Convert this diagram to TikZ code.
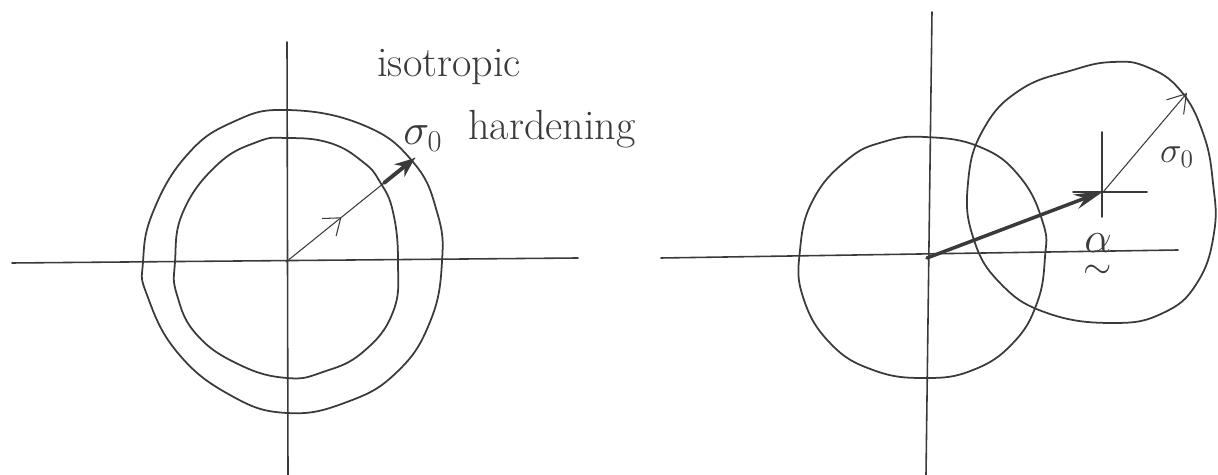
\documentclass[tikz,border=0pt]{standalone}
\usepackage{amsmath}
\usetikzlibrary{arrows.meta,decorations.markings,calc}
\definecolor{ink}{HTML}{3A3A3A}
\tikzset{
  pen/.style={draw=ink, line width=0.9pt, line cap=round, line join=round},
  axis/.style={pen},
  surface/.style={pen, line width=1pt},
  lbl/.style={text=ink, inner sep=0pt, font=\fontsize{24}{28}\selectfont},
}
\begin{document}
\begin{tikzpicture}[x=0.02cm,y=-0.02cm]
\useasboundingbox (0,0) rectangle (1218,475);
\coordinate (O1) at (286,262);
\coordinate (P1) at (415,158);
\coordinate (O2) at (927,258);
\coordinate (C2) at (1104,191);
\coordinate (T2) at (1187,93);
\draw[axis] (12,263) -- (578,258);
\draw[axis] (287,42) -- (288,475);
\draw[surface] plot[smooth cycle, tension=0.75] coordinates {(287,110) (363,125) (413,162) (437,212) (442,262) (430,322) (397,372) (347,402) (287,413) (230,395) (177,352) (147,295) (143,262) (153,212) (187,155) (233,122)};
\draw[surface] plot[smooth cycle, tension=0.75] coordinates {(287,138) (330,143) (363,162) (380,182) (393,212) (398,262) (393,312) (363,352) (323,372) (287,378) (240,365) (197,335) (177,295) (175,262) (183,212) (217,165) (257,142)};
\draw[pen, line width=0.6pt, postaction={decorate}, decoration={markings, mark=at position 0.43 with {\arrow{Straight Barb[length=3mm,width=4.5mm]}}}] (O1) -- (P1);
\draw[pen, line width=2.2pt, -{Stealth[length=4mm,width=3.2mm]}] ($(O1)!0.76!(P1)$) -- (P1);
\node[lbl, anchor=base west] (iso) at (377,77) {isotropic};
\node[lbl, anchor=base west] (hard) at (468,140) {hardening};
\node[lbl, anchor=base west] (s0a) at (403,145) {$\sigma_0$};
\draw[axis] (661,258) -- (1178,250);
\draw[axis] (932,12) -- (926,475);
\draw[surface] plot[smooth cycle, tension=0.75] coordinates {(925,137) (980,147) (1020,177) (1043,223) (1045,257) (1037,303) (1013,343) (973,370) (925,378) (873,370) (830,343) (803,297) (800,250) (813,200) (847,160) (883,142)};
\draw[surface] plot[smooth cycle, tension=0.75] coordinates {(1113,62) (1147,67) (1180,90) (1203,133) (1213,183) (1214,233) (1197,283) (1163,313) (1113,323) (1047,313) (1000,283) (973,237) (968,183) (983,130) (1020,90) (1073,70)};
\draw[axis] (1102,132) -- (1102,217);
\draw[axis] (1073,192) -- (1147,192);
\draw[pen, line width=2pt, -{Stealth[length=6mm,width=3mm]}] (O2) -- (C2);
\draw[pen, line width=0.6pt, -{Straight Barb[length=3.5mm,width=4.5mm]}] (C2) -- (T2);
\node[lbl, font=\fontsize{22}{26}\selectfont] (s0b) at (1177,157) {$\sigma_0$};
\node[lbl, font=\fontsize{30}{34}\selectfont] (alpha) at (1098,258) {$\underset{\sim}{\alpha}$};
\end{tikzpicture}
\end{document}
